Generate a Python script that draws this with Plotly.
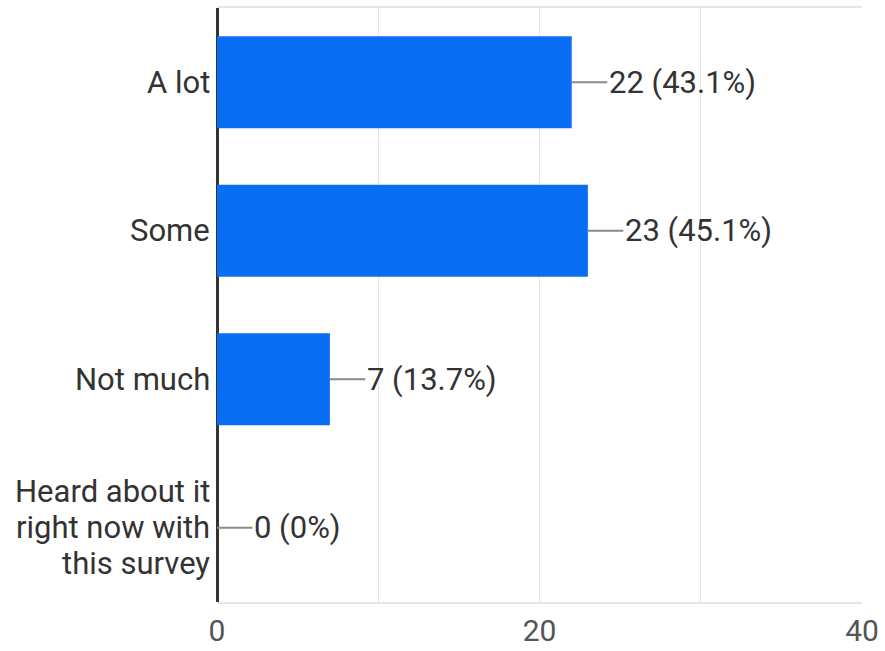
import plotly.graph_objects as go

categories = ["A lot", "Some", "Not much", "Heard about it right now with this survey"]
category_lines = [["A lot"], ["Some"], ["Not much"], ["Heard about it", "right now with", "this survey"]]
counts = [22, 23, 7, 0]
percents = ["43.1%", "45.1%", "13.7%", "0%"]
x_ticks = [0, 10, 20, 30, 40]
x_tick_labels = ["0", "", "20", "", "40"]

BAR = "#0a6ef5"
LEAD = 2.2
FS = 31
LINE_H = 36

fig = go.Figure(go.Bar(
    x=counts, y=categories, orientation="h",
    marker=dict(color=BAR, line=dict(width=0)),
    width=0.62, hoverinfo="skip",
))

for c, lines, v, p in zip(categories, category_lines, counts, percents):
    fig.add_shape(type="line", xref="x", yref="y", x0=v, x1=v + LEAD, y0=c, y1=c,
                  line=dict(color="#8a8a8a", width=2))
    fig.add_annotation(x=v + LEAD, y=c, xref="x", yref="y", text=f"{v} ({p})",
                       showarrow=False, xanchor="left", yanchor="middle",
                       font=dict(size=FS, color="#333333", family="Roboto"))
    n = len(lines)
    for i, line in enumerate(lines):
        fig.add_annotation(x=0, y=c, xref="paper", yref="y", text=line,
                           showarrow=False, xanchor="right", yanchor="middle",
                           xshift=-5, yshift=((n - 1) / 2 - i) * LINE_H,
                           font=dict(size=FS, color="#333333", family="Roboto"))

fig.update_layout(
    width=885, height=651,
    margin=dict(l=217, r=23, t=8, b=49, autoexpand=False),
    paper_bgcolor="white", plot_bgcolor="white",
    showlegend=False,
    font=dict(family="Roboto", size=FS, color="#333333"),
    bargap=0.38,
)
fig.update_xaxes(
    range=[0, 40], tickvals=x_ticks, ticktext=x_tick_labels,
    showgrid=True, gridcolor="#e6e6e6", gridwidth=1,
    zeroline=True, zerolinecolor="#333333", zerolinewidth=3,
    showline=True, linecolor="#e6e6e6", linewidth=2, mirror=True,
    ticks="", ticklabelstandoff=1, automargin=False,
    tickfont=dict(size=30, color="#555555", family="Roboto"),
    fixedrange=True,
)
fig.update_yaxes(
    autorange="reversed", showgrid=False, zeroline=False, showline=False,
    showticklabels=False, ticks="", automargin=False,
    fixedrange=True,
)

fig.write_html("out.html", config={"displayModeBar": False},
               post_script="document.body.style.margin='0';")
